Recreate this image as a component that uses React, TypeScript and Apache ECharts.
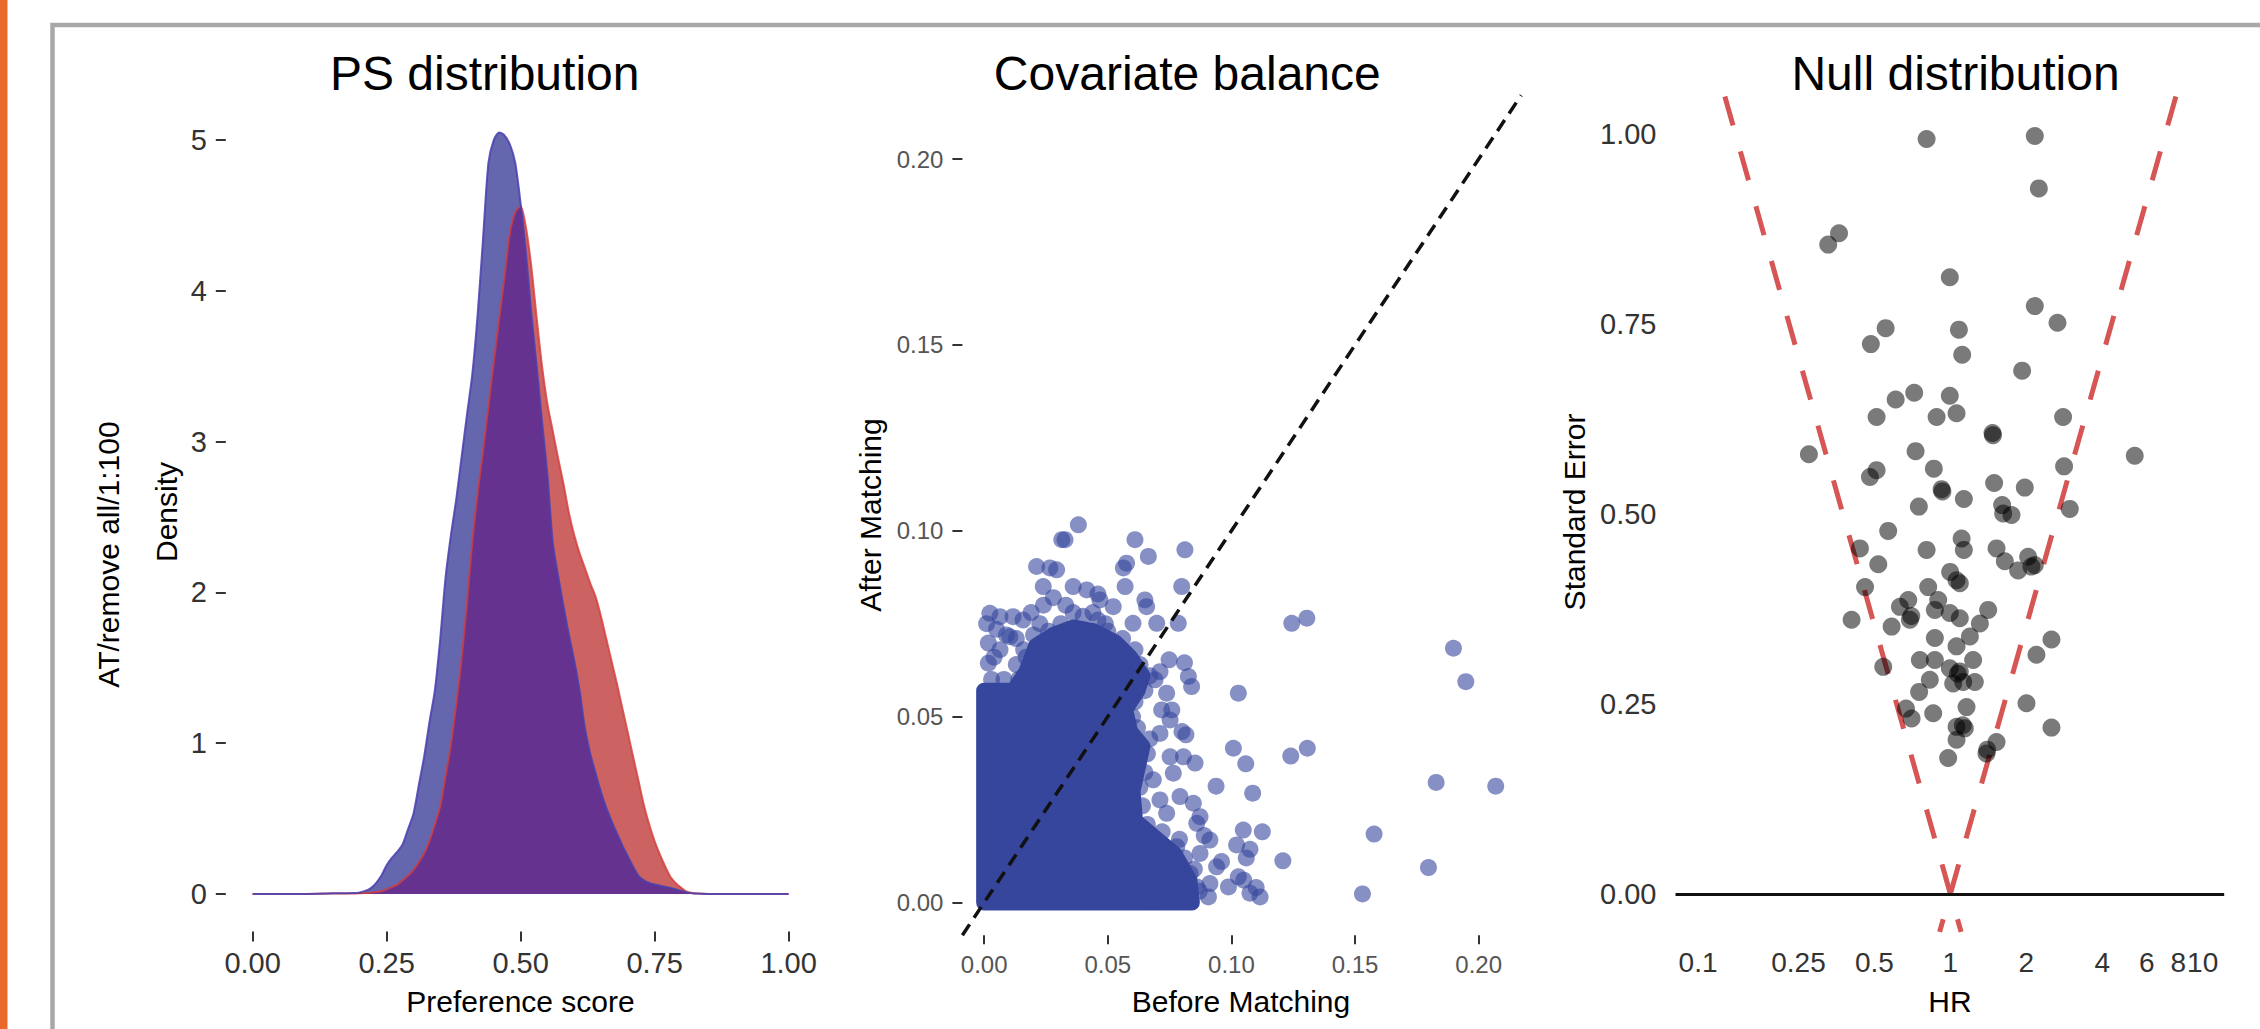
import React, { useEffect, useRef } from "react";
import * as echarts from "echarts";

// ---------- Panel 1: PS distribution (density curves) ----------
const psX = [0, 0.1, 0.15, 0.19, 0.2, 0.21, 0.22, 0.23, 0.24, 0.25, 0.26, 0.27, 0.28, 0.29, 0.3, 0.31, 0.32, 0.33, 0.34, 0.35, 0.36, 0.37, 0.38, 0.39, 0.4, 0.41, 0.42, 0.43, 0.44, 0.45, 0.46, 0.47, 0.48, 0.49, 0.5, 0.51, 0.52, 0.53, 0.54, 0.55, 0.56, 0.57, 0.58, 0.59, 0.6, 0.61, 0.62, 0.63, 0.64, 0.65, 0.66, 0.67, 0.68, 0.69, 0.7, 0.71, 0.72, 0.73, 0.74, 0.75, 0.76, 0.77, 0.78, 0.79, 0.8, 0.81, 0.82, 0.83, 0.85, 1.0];
const blueDensity = [0, 0, 0.004, 0.006, 0.01, 0.02, 0.037, 0.07, 0.12, 0.19, 0.24, 0.28, 0.33, 0.43, 0.53, 0.72, 0.91, 1.14, 1.35, 1.69, 2.1, 2.38, 2.62, 2.9, 3.18, 3.45, 3.85, 4.35, 4.85, 5.0, 5.05, 5.03, 4.97, 4.85, 4.58, 4.25, 3.85, 3.5, 3.13, 2.78, 2.33, 2.11, 1.91, 1.72, 1.55, 1.35, 1.1, 0.93, 0.8, 0.675, 0.57, 0.48, 0.4, 0.32, 0.25, 0.18, 0.12, 0.09, 0.072, 0.062, 0.055, 0.047, 0.04, 0.03, 0.02, 0.01, 0.004, 0.002, 0, 0];
const redDensity = [0, 0, 0.003, 0.003, 0.004, 0.006, 0.008, 0.012, 0.018, 0.03, 0.045, 0.062, 0.09, 0.12, 0.158, 0.21, 0.27, 0.35, 0.46, 0.58, 0.78, 0.99, 1.26, 1.56, 1.93, 2.34, 2.66, 2.94, 3.23, 3.53, 3.81, 4.09, 4.38, 4.52, 4.56, 4.42, 4.16, 3.82, 3.5, 3.25, 3.07, 2.89, 2.72, 2.53, 2.38, 2.26, 2.16, 2.06, 1.97, 1.84, 1.69, 1.54, 1.39, 1.23, 1.07, 0.91, 0.75, 0.59, 0.46, 0.35, 0.26, 0.18, 0.11, 0.07, 0.04, 0.015, 0.006, 0.002, 0, 0];
const psTicks = [0, 0.25, 0.5, 0.75, 1];
const densityTicks = [0, 1, 2, 3, 4, 5];

// ---------- Panel 2: Covariate balance ----------
// outline of the saturated (overplotted) core of the point cloud, in point-centre coordinates
const blobOutline: number[][] = [
  [0, 0], [0.084, 0], [0.083, 0.006], [0.077, 0.013], [0.068, 0.018], [0.061, 0.022], [0.06, 0.03], [0.062, 0.036],
  [0.064, 0.042], [0.059, 0.046], [0.057, 0.052], [0.062, 0.057], [0.064, 0.061], [0.059, 0.066], [0.053, 0.07],
  [0.044, 0.073], [0.036, 0.074], [0.028, 0.072], [0.021, 0.069], [0.017, 0.062], [0.012, 0.057], [0, 0.057],
];
// individually visible covariates (before, after)
const covPoints: number[][] = [
  [0.0023, 0.0778], [0.0064, 0.0769], [0.0117, 0.0769], [0.0017, 0.0698], [0.0017, 0.0644], [0.0064, 0.068], [0.0104, 0.0715],
  [0.0157, 0.076], [0.0212, 0.0904], [0.0266, 0.09], [0.0293, 0.0895], [0.0314, 0.0976], [0.0327, 0.0976], [0.0381, 0.1016],
  [0.0239, 0.085], [0.036, 0.085], [0.0415, 0.0841], [0.0468, 0.0814], [0.0522, 0.0796], [0.057, 0.085], [0.0576, 0.0913],
  [0.0563, 0.09], [0.061, 0.0976], [0.0664, 0.0931], [0.065, 0.0814], [0.0657, 0.0796], [0.0812, 0.0949], [0.0799, 0.085],
  [0.0785, 0.0751], [0.0698, 0.0751], [0.0602, 0.0751], [0.008, 0.06], [0.013, 0.064], [0.019, 0.078], [0.024, 0.08],
  [0.028, 0.082], [0.033, 0.08], [0.044, 0.078], [0.049, 0.075], [0.046, 0.083], [0.036, 0.078], [0.005, 0.0735], [0.0225, 0.075],
  [0.001, 0.075], [0.004, 0.066], [0.009, 0.072], [0.013, 0.071], [0.016, 0.068],
  [0.087, 0.003], [0.085, 0.009], [0.081, 0.012], [0.079, 0.017], [0.072, 0.019], [0.066, 0.021], [0.064, 0.026], [0.063, 0.031],
  [0.065, 0.035], [0.066, 0.04], [0.067, 0.044], [0.062, 0.047], [0.06, 0.05], [0.061, 0.054], [0.065, 0.057], [0.067, 0.061],
  [0.063, 0.064], [0.061, 0.068], [0.056, 0.071], [0.05, 0.073], [0.046, 0.076], [0.04, 0.077], [0.031, 0.075], [0.026, 0.073],
  [0.02, 0.072], [0.017, 0.066], [0.014, 0.06], [0.003, 0.06],
  [0.1244, 0.0751], [0.1305, 0.0765], [0.1898, 0.0684], [0.1948, 0.0594], [0.1028, 0.0563], [0.0748, 0.0653], [0.081, 0.0645],
  [0.0826, 0.0608], [0.0839, 0.0581], [0.0718, 0.0518], [0.0752, 0.0491], [0.0816, 0.0451], [0.08, 0.046], [0.1008, 0.0415],
  [0.1058, 0.0373], [0.124, 0.0394], [0.1307, 0.0415], [0.0938, 0.0313], [0.1086, 0.0294], [0.1828, 0.0323], [0.2069, 0.0313],
  [0.1577, 0.0184], [0.1797, 0.0094], [0.153, 0.0023], [0.1208, 0.0112], [0.1125, 0.019], [0.1048, 0.0195], [0.1021, 0.0155],
  [0.1075, 0.0143], [0.106, 0.012], [0.1028, 0.0069], [0.105, 0.006], [0.1075, 0.0025], [0.11, 0.004], [0.1116, 0.0015],
  [0.0988, 0.0042], [0.096, 0.011], [0.0913, 0.0051], [0.0907, 0.0015], [0.0873, 0.0132], [0.094, 0.0096], [0.0913, 0.0168],
  [0.089, 0.018], [0.086, 0.0213], [0.0792, 0.0285], [0.0846, 0.0267], [0.0873, 0.0231], [0.0806, 0.006], [0.0738, 0.0015],
  [0.0678, 0.0006], [0.0792, 0.0015], [0.086, 0.0042], [0.0833, 0.0078], [0.0779, 0.015], [0.0738, 0.0105], [0.0738, 0.024],
  [0.0711, 0.0276], [0.0752, 0.0392], [0.0806, 0.0392], [0.0853, 0.0375], [0.0765, 0.0348], [0.0684, 0.033], [0.0711, 0.0455],
  [0.0759, 0.0518], [0.0738, 0.0563], [0.0691, 0.0599], [0.0711, 0.0621],
];
const balanceTicks = [0, 0.05, 0.1, 0.15, 0.2];
const balanceMin = -0.0088;
const balanceMax = 0.2172;

// ---------- Panel 3: Null distribution ----------
const hrValues = [
  0.805, 2.161, 2.242, 0.362, 0.328, 0.995, 2.161, 2.658, 0.554, 0.484, 1.081, 1.114, 1.925, 0.719, 0.607, 0.995, 0.51, 0.882,
  1.058, 2.798, 1.469, 1.475, 0.275, 5.38, 0.728, 0.51, 0.48, 0.86, 2.823, 0.923, 0.93, 1.491, 1.972, 1.131, 0.75, 1.604, 1.619,
  1.747, 2.974, 0.567, 0.438, 0.805, 1.108, 1.131, 1.524, 0.518, 1.644, 2.033, 1.856, 2.096, 2.161, 0.459, 0.406, 0.998, 1.058,
  1.09, 0.817, 0.681, 0.631, 0.691, 0.7, 0.895, 0.868, 0.995, 1.09, 1.412, 1.309, 0.585, 0.868, 1.195, 1.058, 2.516, 2.194,
  0.542, 0.757, 0.868, 0.995, 1.09, 1.07, 1.231, 1.25, 0.829, 1.124, 1.026, 0.752, 0.667, 0.702, 0.855, 1.159, 1.058, 1.141,
  1.12, 1.058, 2.003, 2.516, 1.524, 1.39, 1.4, 0.98,
];
const seValues = [
  0.994, 0.998, 0.929, 0.87, 0.855, 0.812, 0.774, 0.752, 0.745, 0.724, 0.743, 0.71, 0.689, 0.66, 0.651, 0.656, 0.628, 0.628,
  0.633, 0.628, 0.607, 0.604, 0.579, 0.577, 0.583, 0.558, 0.549, 0.56, 0.563, 0.533, 0.53, 0.541, 0.535, 0.52, 0.51, 0.512, 0.501,
  0.499, 0.507, 0.478, 0.455, 0.453, 0.468, 0.453, 0.455, 0.434, 0.438, 0.444, 0.426, 0.431, 0.433, 0.404, 0.361, 0.424, 0.413,
  0.409, 0.404, 0.387, 0.378, 0.361, 0.366, 0.387, 0.374, 0.37, 0.363, 0.374, 0.356, 0.352, 0.337, 0.339, 0.326, 0.335, 0.315,
  0.299, 0.308, 0.308, 0.297, 0.293, 0.29, 0.308, 0.279, 0.282, 0.279, 0.277, 0.266, 0.244, 0.231, 0.238, 0.246, 0.22, 0.218,
  0.222, 0.203, 0.251, 0.219, 0.2, 0.185, 0.19, 0.179,
];
const hrTicks = [0.1, 0.25, 0.5, 1, 2, 4, 6, 8, 10];
const hrTickLabels = ["0.1", "0.25", "0.5", "1", "2", "4", "6", "8", "10"];
const seTicks = [0, 0.25, 0.5, 0.75, 1];
const funnelZ = 1.96;
const funnelSE = [1.05, -0.05];

const FONT = '"Liberation Sans", Arial, Helvetica, sans-serif';
const BLUE = "#36469c";

function axisText(size: number, color: string, margin: number) {
  return { fontSize: size, color, margin, fontFamily: FONT };
}

function buildOption() {
  const bluePairs = psX.map((x, i) => [x, blueDensity[i]]);
  const redPairs = psX.map((x, i) => [x, redDensity[i]]);
  const overlapPairs = psX.map((x, i) => [x, Math.min(blueDensity[i], redDensity[i])]);
  const nullPairs = hrValues.map((h, i) => [h, seValues[i]]);
  const leftFunnel = funnelSE.map((s) => [Math.exp(-funnelZ * s), s]);
  const rightFunnel = funnelSE.map((s) => [Math.exp(funnelZ * s), s]);

  const tickStyle = { color: "#333", width: 2 };
  const noLine = { show: false, onZero: false };

  const text = (t: string, x: number, y: number, size: number, rot = 0) => ({
    type: "text",
    x,
    y,
    rotation: rot,
    silent: true,
    style: {
      text: t,
      fontSize: size,
      fontFamily: FONT,
      fill: "#000",
      textAlign: "center",
      textVerticalAlign: "middle",
      align: "center",
      verticalAlign: "middle",
    },
  });

  return {
    animation: false,
    backgroundColor: "#fff",
    grid: [
      { left: 225.8, top: 94.7, width: 589.6, height: 836.9, containLabel: false, outerBoundsMode: "none" },
      { left: 962.4, top: 95.2, width: 558.8, height: 840, containLabel: false, outerBoundsMode: "none" },
      { left: 1675.5, top: 96.5, width: 548.7, height: 835.4, containLabel: false, outerBoundsMode: "none" },
    ],
    xAxis: [
      {
        type: "value", gridIndex: 0, min: -0.05, max: 1.05, axisLine: noLine, splitLine: { show: false },
        axisTick: { show: true, length: 10, lineStyle: tickStyle, customValues: psTicks },
        axisLabel: { ...axisText(29, "#333", 17), customValues: psTicks, formatter: (v: number) => v.toFixed(2) },
      },
      {
        type: "value", gridIndex: 1, min: balanceMin, max: balanceMax, axisLine: noLine, splitLine: { show: false },
        axisTick: { show: true, length: 9, lineStyle: tickStyle, customValues: balanceTicks },
        axisLabel: { ...axisText(24, "#555", 17), customValues: balanceTicks, formatter: (v: number) => v.toFixed(2) },
      },
      {
        type: "log", logBase: 10, gridIndex: 2, min: 0.0814, max: 12.17, axisLine: noLine, splitLine: { show: false },
        axisTick: { show: false },
        axisLabel: {
          ...axisText(28, "#333", 17),
          customValues: hrTicks,
          formatter: (v: number) => {
            const i = hrTicks.findIndex((t) => Math.abs(t - v) / t < 1e-4);
            return i >= 0 ? hrTickLabels[i] : "";
          },
        },
      },
    ],
    yAxis: [
      {
        type: "value", gridIndex: 0, min: -0.25, max: 5.3, axisLine: noLine, splitLine: { show: false },
        axisTick: { show: true, length: 10, lineStyle: tickStyle, customValues: densityTicks },
        axisLabel: { ...axisText(29, "#333", 19), customValues: densityTicks, formatter: (v: number) => String(Math.round(v)) },
      },
      {
        type: "value", gridIndex: 1, min: balanceMin, max: balanceMax, axisLine: noLine, splitLine: { show: false },
        axisTick: { show: true, length: 10, lineStyle: tickStyle, customValues: balanceTicks },
        axisLabel: { ...axisText(24, "#555", 19), customValues: balanceTicks, formatter: (v: number) => v.toFixed(2) },
      },
      {
        type: "value", gridIndex: 2, min: -0.05, max: 1.05, axisLine: noLine, splitLine: { show: false },
        axisTick: { show: false },
        axisLabel: { ...axisText(29, "#333", 19), customValues: seTicks, formatter: (v: number) => v.toFixed(2) },
      },
    ],
    series: [
      // density areas
      { type: "line", xAxisIndex: 0, yAxisIndex: 0, data: redPairs, smooth: 0.25, showSymbol: false, silent: true,
        lineStyle: { opacity: 0, width: 0 }, areaStyle: { color: "#cc6262", opacity: 1 } },
      { type: "line", xAxisIndex: 0, yAxisIndex: 0, data: bluePairs, smooth: 0.25, showSymbol: false, silent: true,
        lineStyle: { opacity: 0, width: 0 }, areaStyle: { color: "#6466ae", opacity: 1 } },
      { type: "line", xAxisIndex: 0, yAxisIndex: 0, data: overlapPairs, smooth: 0.25, showSymbol: false, silent: true,
        lineStyle: { opacity: 0, width: 0 }, areaStyle: { color: "#65328f", opacity: 1 } },
      { type: "line", xAxisIndex: 0, yAxisIndex: 0, data: redPairs, smooth: 0.25, showSymbol: false, silent: true,
        lineStyle: { color: "#d43c3c", width: 2, opacity: 0.8 } },
      { type: "line", xAxisIndex: 0, yAxisIndex: 0, data: bluePairs, smooth: 0.25, showSymbol: false, silent: true,
        lineStyle: { color: "#4a3fb0", width: 2, opacity: 0.85 } },
      // covariate balance
      {
        type: "custom", xAxisIndex: 1, yAxisIndex: 1, data: blobOutline, silent: true, z: 2,
        renderItem: (params: any, api: any) => {
          if (params.dataIndex !== 0) return null;
          const pts = blobOutline.map((p) => api.coord(p));
          return {
            type: "polygon",
            shape: { points: pts },
            style: { fill: BLUE, stroke: BLUE, lineWidth: 16, lineJoin: "round" },
          };
        },
      },
      { type: "scatter", xAxisIndex: 1, yAxisIndex: 1, data: covPoints, symbolSize: 17, silent: true, z: 3,
        itemStyle: { color: BLUE, opacity: 0.6 } },
      { type: "line", xAxisIndex: 1, yAxisIndex: 1, data: [[balanceMin, balanceMin], [balanceMax, balanceMax]],
        showSymbol: false, silent: true, z: 4, lineStyle: { color: "#111", width: 3.5, type: [13, 8] } },
      // null distribution
      { type: "line", xAxisIndex: 2, yAxisIndex: 2, data: leftFunnel, showSymbol: false, silent: true, z: 2,
        lineStyle: { color: "#d65555", width: 5, type: [30, 27] } },
      { type: "line", xAxisIndex: 2, yAxisIndex: 2, data: rightFunnel, showSymbol: false, silent: true, z: 2,
        lineStyle: { color: "#d65555", width: 5, type: [30, 27] } },
      {
        type: "scatter", xAxisIndex: 2, yAxisIndex: 2, data: nullPairs, symbolSize: 18, silent: true, z: 3,
        itemStyle: { color: "#000", opacity: 0.52 },
        markLine: {
          silent: true, symbol: ["none", "none"], label: { show: false },
          lineStyle: { color: "#111", width: 3, type: "solid" },
          data: [{ yAxis: 0 }],
        },
      },
    ],
    graphic: [
      { type: "rect", silent: true, shape: { x: 0, y: 0, width: 7.5, height: 1029 }, style: { fill: "#e9692c" } },
      { type: "rect", silent: true, shape: { x: 52.5, y: 25, width: 2400, height: 1200 },
        style: { fill: "none", stroke: "#a8a8a8", lineWidth: 4.5 } },
      text("PS distribution", 484.7, 73, 48),
      text("Covariate balance", 1187.3, 73, 48),
      text("Null distribution", 1955.5, 73, 48),
      text("Preference score", 520.5, 1001, 30),
      text("Density", 166, 512, 30, Math.PI / 2),
      text("AT/remove all/1:100", 108.5, 554.5, 30, Math.PI / 2),
      text("Before Matching", 1241, 1001, 30),
      text("After Matching", 870, 515, 30, Math.PI / 2),
      text("HR", 1950, 1001, 30),
      text("Standard Error", 1574, 512, 30, Math.PI / 2),
    ],
  };
}

export default function App() {
  const ref = useRef<HTMLDivElement>(null);
  useEffect(() => {
    if (!ref.current) return;
    const chart = echarts.init(ref.current, null, { renderer: "svg" });
    chart.setOption(buildOption() as any);
    return () => chart.dispose();
  }, []);
  return (
    <div
      ref={ref}
      style={{ position: "fixed", left: 0, top: 0, width: 2260, height: 1029, background: "#fff" }}
    />
  );
}
